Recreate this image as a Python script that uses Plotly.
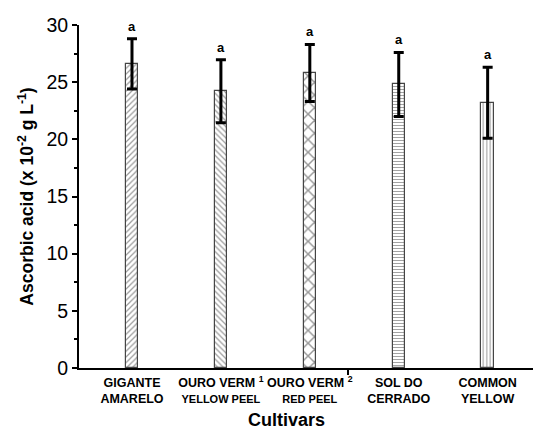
import plotly.graph_objects as go

categories = ["GIGANTE AMARELO", "OURO VERM 1 YELLOW PEEL", "OURO VERM 2 RED PEEL",
              "SOL DO CERRADO", "COMMON YELLOW"]
tick_labels = [
    "GIGANTE<br>AMARELO",
    "OURO VERM <sup>1</sup><br><span style='font-size:11px'>YELLOW PEEL</span>",
    "OURO VERM <sup>2</sup><br><span style='font-size:11px'>RED PEEL</span>",
    "SOL DO<br>CERRADO",
    "COMMON<br>YELLOW",
]
means = [26.6, 24.2, 25.8, 24.8, 23.2]
errors = [2.2, 2.75, 2.5, 2.8, 3.1]
letters = ["a", "a", "a", "a", "a"]
patterns = ["/", "\\", "x", "-", "|"]
pattern_sizes = [4, 4, 9, 3, 3.5]

xpos = list(range(1, len(categories) + 1))

fig = go.Figure()
for i in range(len(categories)):
    fig.add_trace(go.Bar(
        x=[xpos[i]], y=[means[i]], width=0.14, name=categories[i],
        marker=dict(color="white", line=dict(color="#444444", width=1.2),
                    pattern=dict(shape=patterns[i], fgcolor="#333333", bgcolor="white",
                                 size=pattern_sizes[i], solidity=0.3)),
        error_y=dict(type="data", array=[errors[i]], color="black", thickness=3, width=5),
        showlegend=False,
    ))
    fig.add_annotation(x=xpos[i], y=means[i] + errors[i], text="<b>" + letters[i] + "</b>",
                       showarrow=False, yanchor="bottom", yshift=3,
                       font=dict(family="Liberation Sans, Arial", size=13, color="black"))

font_family = "Liberation Sans, Arial, sans-serif"
fig.update_layout(
    width=533, height=432,
    margin=dict(l=79, r=0, t=25, b=64),
    plot_bgcolor="white", paper_bgcolor="white",
    font=dict(family=font_family, color="black"),
    bargap=0,
    xaxis=dict(
        range=[0.404, 5.51], tickvals=xpos, ticktext=tick_labels,
        ticks="", showline=True, linecolor="black", linewidth=2,
        showgrid=False, zeroline=False,
        tickfont=dict(family=font_family, size=12.5, color="black", weight="bold"),
        ticklabelstandoff=2,
        minor=dict(tickvals=[3.43], ticks="outside", ticklen=5, tickwidth=1.5, tickcolor="black"),
    ),
    yaxis=dict(
        range=[0, 30], tick0=0, dtick=5, ticks="outside", ticklen=5, tickwidth=1.5,
        tickcolor="black", showline=True, linecolor="black", linewidth=2,
        showgrid=False, zeroline=False,
        tickfont=dict(family=font_family, size=19.5, color="black"),
        minor=dict(dtick=2.5, ticks="outside", ticklen=3, tickwidth=1.5, tickcolor="black"),
        title=dict(text="Ascorbic acid (x 10<sup>-2</sup> g L<sup>-1</sup>)",
                   font=dict(family=font_family, size=17.5, color="black", weight="bold"),
                   standoff=8),
    ),
)
fig.add_annotation(x=0.458, y=-0.152, xref="paper", yref="paper", text="<b>Cultivars</b>",
                   showarrow=False, yanchor="middle",
                   font=dict(family=font_family, size=18, color="black"))

fig.write_html("out.html")
